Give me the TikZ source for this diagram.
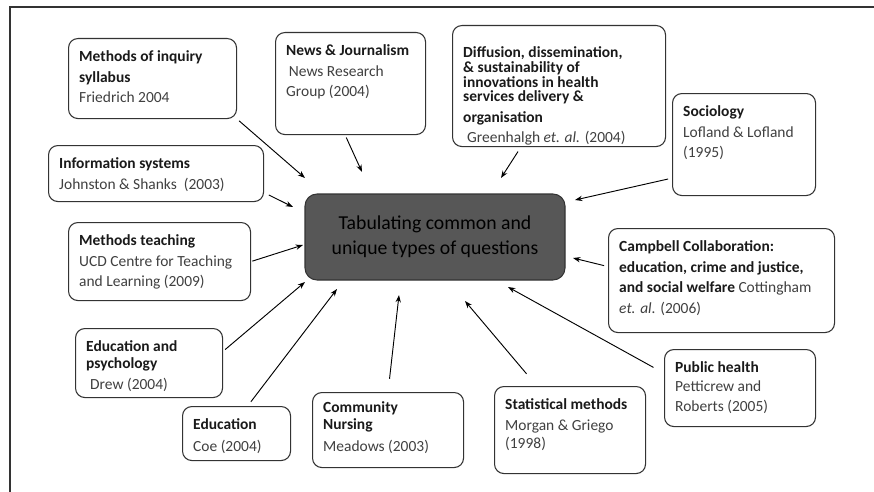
\documentclass[tikz,border=0pt]{standalone}
\usepackage{fontspec}
\setmainfont{Carlito}
\usetikzlibrary{arrows.meta}
\definecolor{headgray}{HTML}{1A1A1A}
\definecolor{srcgray}{HTML}{404040}
\definecolor{hubgray}{HTML}{575757}
\definecolor{rimgray}{HTML}{333333}
\newlength{\pxu}\setlength{\pxu}{0.75pt}
% fixed size text block, set from the top
\newcommand{\boxtext}[3]{\parbox[c][\dimexpr#2\pxu-18pt\relax][t]{\dimexpr#1\pxu-16pt\relax}{\raggedright #3}}
\newcommand{\hd}[1]{{\bfseries\color{headgray}#1}}

\begin{document}
\begin{tikzpicture}[x=0.75pt,y=-0.75pt,
	srcbox/.style={draw=rimgray,line width=0.8pt,rounded corners=7pt,inner xsep=8pt,inner ysep=9pt,anchor=north west,fill=white,text=srcgray,font=\fontsize{11.6}{15.5}\selectfont},
	hub/.style={draw=rimgray,line width=0.8pt,fill=hubgray,rounded corners=9pt,minimum width=195pt,minimum height=64.5pt,align=center,text=black,font=\fontsize{14.8}{19}\selectfont},
	feed/.style={-{Stealth[length=5.5pt,width=4pt]},line width=0.7pt,black}]
	\useasboundingbox (0,0) rectangle (874,492);
	\draw [line width=1.5pt,rimgray] (10,492) -- (10,7) -- (874,7);

	\node [hub] (ctr) at (435,237) {Tabulating common and\\unique types of questions};

	\node [srcbox] (inq) at (68,38) {\boxtext{168}{80}{\hd{Methods of inquiry}\\ \hd{syllabus}\\ Friedrich 2004}};
	\node [srcbox] (news) at (275,32) {\boxtext{150}{102}{\hd{News \& Journalism}\\ \hspace*{2pt}News Research\\ Group (2004)}};
	\node [srcbox] (diff) at (452,25) {\boxtext{213}{121}{\vspace*{7pt}\hd{Diffusion, dissemination,}\\[-4.5pt] \hd{\& sustainability of}\\[-4.5pt] \hd{innovations in health}\\[-4.5pt] \hd{services delivery \&}\\[0pt] \hd{organisation}\\[-0.5pt] \hspace*{3pt}Greenhalgh \textit{et. al.} (2004)}};
	\node [srcbox] (soc) at (672,93) {\boxtext{143}{102}{\hd{Sociology}\\ Lofland \& Lofland\\ (1995)}};
	\node [srcbox] (info) at (48,145) {\boxtext{215}{56}{\hd{Information systems}\\[0pt] Johnston \& Shanks\ \ (2003)}};
	\node [srcbox] (teach) at (68,222) {\boxtext{182}{78}{\hd{Methods teaching}\\ UCD Centre for Teaching\\ and Learning (2009)}};
	\node [srcbox] (camp) at (608,228) {\boxtext{226}{104}{\hd{Campbell Collaboration:}\\ \hd{education, crime and justice,}\\ \hd{and social welfare} Cottingham\\ \textit{et. al.} (2006)}};
	\node [srcbox] (psych) at (75,328) {\boxtext{147}{69}{\hd{Education and}\\[-2.5pt] \hd{psychology}\\ \hspace*{3pt}Drew (2004)}};
	\node [srcbox] (educ) at (182,406) {\boxtext{108}{54}{\hd{Education}\\[1pt] Coe (2004)}};
	\node [srcbox] (nurs) at (312,392) {\boxtext{151}{75}{\vspace*{-2pt}\hd{Community}\\[-3pt] \hd{Nursing}\\[1pt] Meadows (2003)}};
	\node [srcbox] (stat) at (494,386) {\boxtext{151}{87}{\hd{Statistical methods}\\ Morgan \& Griego\\[-2pt] (1998)}};
	\node [srcbox] (pub) at (664,349) {\boxtext{151}{77}{\hd{Public health}\\[-1pt] Petticrew and\\[-1pt] Roberts (2005)}};

	% arrows into the centre
	\foreach \src/\anc/\gap/\tx/\ty in {inq/south east/2/305/178, news/-96/2/362/172, diff/238/4/501/178, soc/205/3/575/200,
		info/-10/4/293/207, teach/east/1/303/245, psych/9/2/305/282, educ/68/4/337/289,
		nurs/north/10/399/295, stat/127/12/465/301, pub/169/9/508/287, camp/173/3/573/258}
	{
		\coordinate (\src tip) at (\tx,\ty);
		\draw [feed,shorten <=\gap pt] (\src.\anc) -- (\src tip);
	}
\end{tikzpicture}
\end{document}
